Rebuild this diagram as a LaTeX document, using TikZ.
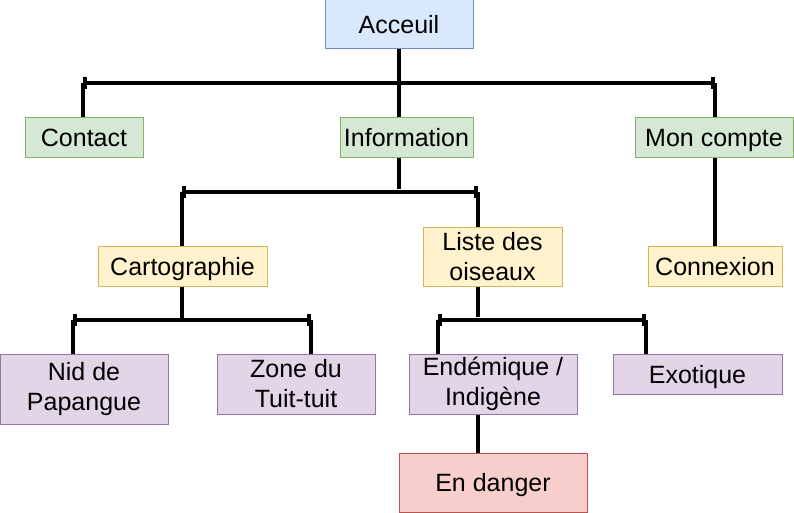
\documentclass[tikz,border=0pt]{standalone}
\usepackage{fontspec}
\setmainfont{Liberation Sans}
\usetikzlibrary{arrows.meta}

\definecolor{bleuF}{HTML}{DAE8FC}\definecolor{bleuT}{HTML}{6C8EBF}
\definecolor{vertF}{HTML}{D5E8D4}\definecolor{vertT}{HTML}{82B366}
\definecolor{jauneF}{HTML}{FFF2CC}\definecolor{jauneT}{HTML}{D6B656}
\definecolor{violetF}{HTML}{E1D5E7}\definecolor{violetT}{HTML}{9673A6}
\definecolor{rougeF}{HTML}{F8CECC}\definecolor{rougeT}{HTML}{B85450}

\begin{document}
\begin{tikzpicture}[x=1pt, y=-1pt,
    box/.style={draw, line width=1pt, align=center, inner sep=0pt,
      font=\fontsize{25}{30}\selectfont},
    ligne/.style={text height=18pt, text depth=0pt},
    bleu/.style={box, fill=bleuF, draw=bleuT},
    vert/.style={box, fill=vertF, draw=vertT},
    jaune/.style={box, fill=jauneF, draw=jauneT},
    violet/.style={box, fill=violetF, draw=violetT},
    rouge/.style={box, fill=rougeF, draw=rougeT},
    lien/.style={line width=4pt},
    barre/.style={line width=4pt, {Bar[width=12pt]}-{Bar[width=12pt]}}]
  \useasboundingbox (0,0) rectangle (794,513);

  \node[bleu, ligne, minimum width=148, minimum height=49]  (acc)  at (399,24.5)  {Acceuil};
  \node[vert, ligne, minimum width=118, minimum height=40]  (cont) at (84,138)    {Contact};
  \node[vert, ligne, minimum width=133, minimum height=40]  (info) at (406.5,138) {Information};
  \node[vert, ligne, minimum width=158, minimum height=40]  (mon)  at (714,138)   {Mon compte};
  \node[jaune, ligne, minimum width=169, minimum height=40] (carto) at (182.5,266) {Cartographie};
  \node[jaune, minimum width=139, minimum height=59]        (liste) at (492.5,256.5) {Liste des\\oiseaux};
  \node[jaune, ligne, minimum width=134, minimum height=40] (conn) at (715,266)   {Connexion};
  \node[violet, minimum width=168, minimum height=70]       (nid)  at (84,389)    {Nid de\\Papangue};
  \node[violet, minimum width=158, minimum height=60]       (zone) at (296,384)   {Zone du\\Tuit-tuit};
  \node[violet, minimum width=168, minimum height=60]       (endem) at (493,384)  {Endémique /\\Indigène};
  \node[violet, ligne, minimum width=169, minimum height=40] (exo) at (697.5,374) {Exotique};
  \node[rouge, ligne, minimum width=188, minimum height=59] (dang) at (493,482.5) {En danger};

  \coordinate (b1g) at (83,83);   \coordinate (b1d) at (715,83);
  \coordinate (b2g) at (182,192); \coordinate (b2d) at (478,192);
  \coordinate (b3g) at (73,320);  \coordinate (b3d) at (311,320);
  \coordinate (b4g) at (438,320); \coordinate (b4d) at (646,320);

  \draw[lien] (acc.south) -- (acc.south |- info.north);
  \draw[barre] (b1g) -- (b1d);
  \draw[lien] (b1g) -- (b1g |- cont.north);
  \draw[lien] (b1d) -- (b1d |- mon.north);

  \draw[lien] (acc.south |- info.south) -- ([yshift=3]acc.south |- b2g);
  \draw[barre] (b2g) -- (b2d);
  \draw[lien] (b2g) -- (b2g |- carto.north);
  \draw[lien] (b2d) -- (b2d |- liste.north);

  \draw[lien] (b1d |- mon.south) -- (b1d |- conn.north);

  \draw[lien] (b2g |- carto.south) -- (b2g |- b3g);
  \draw[barre] (b3g) -- (b3d);
  \draw[lien] (b3g) -- (b3g |- nid.north);
  \draw[lien] (b3d) -- (b3d |- zone.north);

  \draw[lien] (b2d |- liste.south) -- ([yshift=3]b2d |- b4g);
  \draw[barre] (b4g) -- (b4d);
  \draw[lien] (b4g) -- (b4g |- endem.north);
  \draw[lien] (b4d) -- (b4d |- exo.north);

  \draw[lien] (b2d |- endem.south) -- (b2d |- dang.north);
\end{tikzpicture}
\end{document}
